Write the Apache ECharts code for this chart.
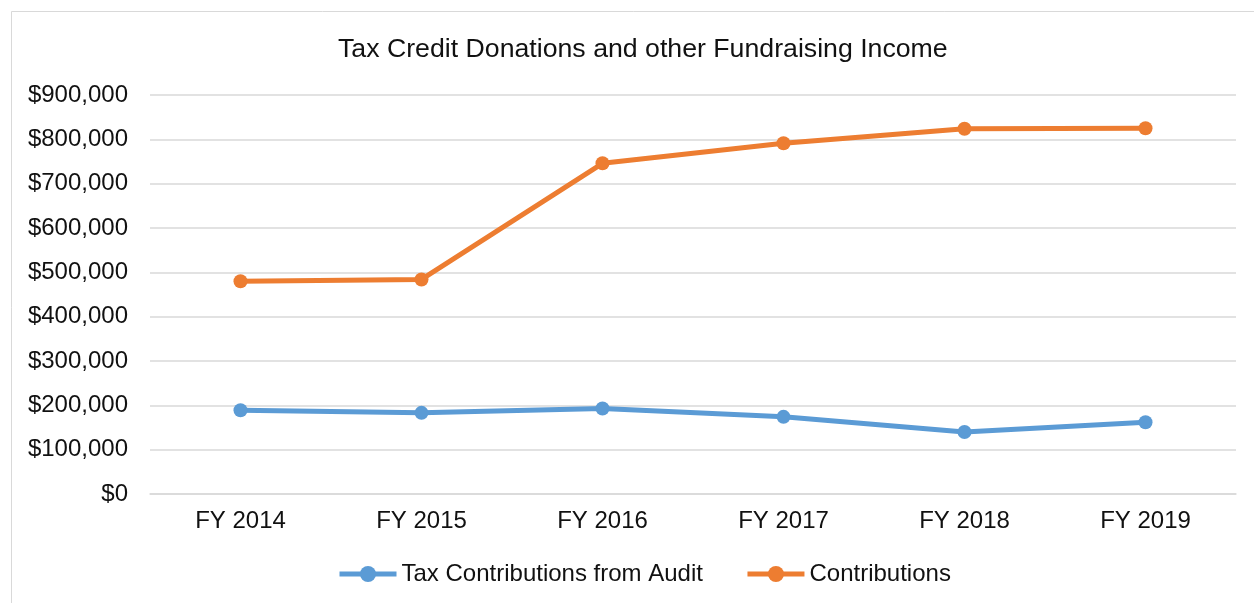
<!DOCTYPE html>
<html>
<head>
<meta charset="utf-8">
<script src="https://cdn.jsdelivr.net/npm/echarts@6/dist/echarts.min.js"></script>
<style>
html,body{margin:0;padding:0;background:#fff;}
#chart{width:1254px;height:603px;}
</style>
</head>
<body>
<div id="chart"></div>
<script>
const categories = ['FY 2014', 'FY 2015', 'FY 2016', 'FY 2017', 'FY 2018', 'FY 2019'];
const taxContributions = [189000, 183000, 193000, 174000, 140000, 162000];
const contributions = [480000, 484000, 746000, 791000, 824000, 825000];
const seriesNames = ['Tax Contributions from Audit', 'Contributions'];
const titleText = 'Tax Credit Donations and other Fundraising Income';

const chart = echarts.init(document.getElementById('chart'), null, {renderer: 'canvas'});
const font = 'Liberation Sans, Arial, sans-serif';
const textColor = '#111';
chart.setOption({
  animation: false,
  backgroundColor: '#fff',
  graphic: [{
    type: 'rect',
    shape: {x: 11.5, y: 11.5, width: 1400, height: 800},
    style: {fill: 'none', stroke: '#d9d9d9', lineWidth: 1},
    silent: true, z: -1
  }],
  title: {
    text: titleText,
    left: 333,
    top: 31,
    textStyle: {fontFamily: font, fontSize: 26.7, fontWeight: 'normal', color: textColor}
  },
  legend: {
    left: 332,
    top: 557,
    itemWidth: 57,
    itemHeight: 20,
    itemGap: 42,
    lineStyle: {width: 5},
    textStyle: {fontFamily: font, fontSize: 24, color: textColor, padding: [0,0,0,0]},
    data: seriesNames
  },
  grid: {left: 150, right: 18, top: 95, bottom: 109, containLabel: false},
  xAxis: {
    type: 'category',
    data: categories,
    boundaryGap: true,
    axisLine: {lineStyle: {color: '#d9d9d9', width: 1.5}},
    axisTick: {show: false},
    axisLabel: {fontFamily: font, fontSize: 24, color: textColor, margin: 15}
  },
  yAxis: {
    type: 'value',
    min: 0, max: 900000, interval: 100000,
    axisLine: {show: false},
    axisTick: {show: false},
    splitLine: {lineStyle: {color: '#d9d9d9', width: 1.5}},
    axisLabel: {
      fontFamily: font, fontSize: 24, color: textColor, margin: 22,
      formatter: v => '$' + v.toLocaleString('en-US')
    }
  },
  series: [
    {
      name: seriesNames[0], type: 'line', data: taxContributions,
      symbol: 'circle', symbolSize: 14,
      lineStyle: {color: '#5B9BD5', width: 5},
      itemStyle: {color: '#5B9BD5'}
    },
    {
      name: seriesNames[1], type: 'line', data: contributions,
      symbol: 'circle', symbolSize: 14,
      lineStyle: {color: '#ED7D31', width: 5},
      itemStyle: {color: '#ED7D31'}
    }
  ]
});
</script>
</body>
</html>
